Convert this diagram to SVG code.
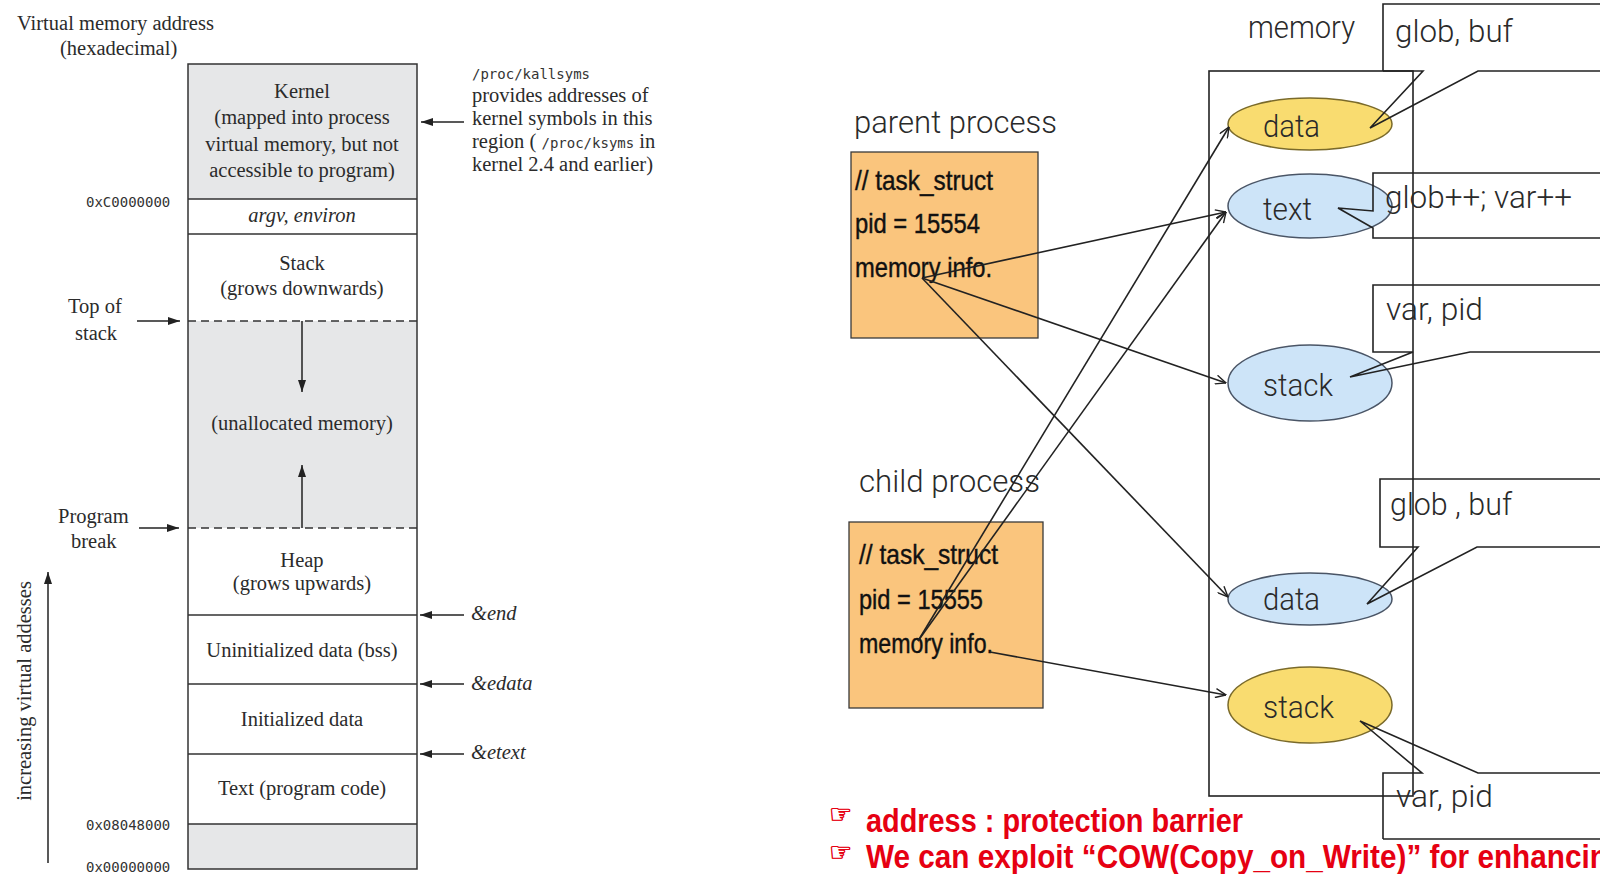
<svg xmlns="http://www.w3.org/2000/svg" width="1600" height="874" viewBox="0 0 1600 874">
  <defs>
    <!-- solid triangular head for the address-layout arrows -->
    <marker id="tri" viewBox="0 0 12 8" refX="12" refY="4" markerWidth="12" markerHeight="8" markerUnits="userSpaceOnUse" orient="auto">
      <path d="M0,0 L12,4 L0,8 Z" fill="#222"/>
    </marker>
    <!-- open head for the process-to-memory pointers -->
    <marker id="vee" viewBox="0 0 12 10" refX="11.5" refY="5" markerWidth="12" markerHeight="10" markerUnits="userSpaceOnUse" orient="auto">
      <path d="M1,0.5 L11.5,5 L1,9.5" fill="none" stroke="#222" stroke-width="1.4"/>
    </marker>
  </defs>
  <style>
    .serif{font-family:"Liberation Serif","Times New Roman",serif;font-size:20.5px;fill:#2b2b2b}
    .it{font-style:italic}
    .mid{text-anchor:middle}
    .mono{font-family:"DejaVu Sans Mono","Liberation Mono",monospace;font-size:14px;fill:#333}
    .seg{fill:none;stroke:#333;stroke-width:1.5}
    .grey{fill:#e6e7e8}
    .dash{stroke:#333;stroke-width:1.5;stroke-dasharray:8 5;fill:none}
    .ptr{stroke:#222;stroke-width:1.6;fill:none}
    .lbl{font-family:Roboto,"Liberation Sans",Arial,sans-serif;font-weight:300;font-size:31px;fill:#2a2a2a}
    .task{font-family:"Liberation Sans Narrow","Liberation Sans",Arial,sans-serif;font-size:28px;fill:#111;stroke:#111;stroke-width:0.4}
    .proc{fill:#fac57d;stroke:#3a3a3a;stroke-width:1.3}
    .yel{fill:#f9dc70;stroke:#7a6a2a;stroke-width:1.5}
    .blu{fill:#cde4f8;stroke:#4a5566;stroke-width:1.5}
    .call{fill:none;stroke:#222;stroke-width:1.6}
    .red{font-family:"Liberation Sans Narrow","Liberation Sans",Arial,sans-serif;font-weight:bold;font-size:33px;fill:#e60012}
    .hand{font-family:"DejaVu Sans",sans-serif;font-size:26px;fill:#e60012;stroke:#e60012;stroke-width:0.6}
  </style>

  <rect width="1600" height="874" fill="#fff"/>

  <!-- ===== Virtual address space layout ===== -->
  <g id="axis-title">
    <text class="serif" x="17" y="30">Virtual memory address</text>
    <text class="serif" x="60" y="55">(hexadecimal)</text>
  </g>

  <g id="seg-kernel">
    <rect class="grey" x="188" y="64" width="229" height="135"/>
    <text class="serif mid" x="302" y="98">Kernel</text>
    <text class="serif mid" x="302" y="124">(mapped into process</text>
    <text class="serif mid" x="302" y="151">virtual memory, but not</text>
    <text class="serif mid" x="302" y="177">accessible to program)</text>
  </g>
  <g id="seg-args">
    <text class="serif it mid" x="302" y="222">argv, environ</text>
  </g>
  <g id="seg-stack">
    <text class="serif mid" x="302" y="270">Stack</text>
    <text class="serif mid" x="302" y="295">(grows downwards)</text>
  </g>
  <g id="seg-unallocated">
    <rect class="grey" x="188" y="321" width="229" height="207"/>
    <text class="serif mid" x="302" y="430">(unallocated memory)</text>
  </g>
  <g id="seg-heap">
    <text class="serif mid" x="302" y="567">Heap</text>
    <text class="serif mid" x="302" y="590">(grows upwards)</text>
  </g>
  <g id="seg-bss">
    <text class="serif mid" x="302" y="657">Uninitialized data (bss)</text>
  </g>
  <g id="seg-data">
    <text class="serif mid" x="302" y="726">Initialized data</text>
  </g>
  <g id="seg-text">
    <text class="serif mid" x="302" y="795">Text (program code)</text>
  </g>
  <g id="seg-low">
    <rect class="grey" x="188" y="824" width="229" height="45"/>
  </g>

  <g id="column-frame">
    <rect class="seg" x="188" y="64" width="229" height="805"/>
    <path class="seg" d="M188,199H417 M188,234H417 M188,615H417 M188,684H417 M188,754H417 M188,824H417"/>
    <path class="dash" d="M188,321H417 M188,528H417"/>
  </g>

  <g id="addresses">
    <text class="mono" x="86" y="207">0xC0000000</text>
    <text class="mono" x="86" y="830">0x08048000</text>
    <text class="mono" x="86" y="872">0x00000000</text>
  </g>

  <g id="pointer-labels">
    <text class="serif" x="68" y="313">Top of</text>
    <text class="serif" x="75" y="340">stack</text>
    <text class="serif" x="58" y="523">Program</text>
    <text class="serif" x="71" y="548">break</text>
    <text class="serif it" x="471" y="620">&amp;end</text>
    <text class="serif it" x="471" y="690">&amp;edata</text>
    <text class="serif it" x="471" y="759">&amp;etext</text>
    <text class="serif" transform="translate(31,691) rotate(-90)" text-anchor="middle" font-size="18.5">increasing virtual addesses</text>
  </g>

  <g id="kallsyms-note">
    <text class="mono" x="472" y="79">/proc/kallsyms</text>
    <text class="serif" x="472" y="102">provides addresses of</text>
    <text class="serif" x="472" y="125">kernel symbols in this</text>
    <text class="serif" x="472" y="148">region ( <tspan class="mono">/proc/ksyms</tspan> in</text>
    <text class="serif" x="472" y="171">kernel 2.4 and earlier)</text>
  </g>

  <g id="layout-arrows" fill="none" stroke="#222" stroke-width="1.5">
    <line x1="464" y1="122" x2="421" y2="122" marker-end="url(#tri)"/>
    <line x1="137" y1="321" x2="180" y2="321" marker-end="url(#tri)"/>
    <line x1="139" y1="528" x2="179" y2="528" marker-end="url(#tri)"/>
    <line x1="302" y1="321" x2="302" y2="392" marker-end="url(#tri)"/>
    <line x1="302" y1="528" x2="302" y2="465" marker-end="url(#tri)"/>
    <line x1="464" y1="615" x2="420" y2="615" marker-end="url(#tri)"/>
    <line x1="464" y1="684" x2="420" y2="684" marker-end="url(#tri)"/>
    <line x1="464" y1="754" x2="420" y2="754" marker-end="url(#tri)"/>
    <line x1="48" y1="863" x2="48" y2="572" marker-end="url(#tri)"/>
  </g>

  <!-- ===== fork(): parent / child sharing memory ===== -->
  <g id="parent-process">
    <text class="lbl" x="854" y="133" textLength="203" lengthAdjust="spacingAndGlyphs">parent process</text>
    <rect class="proc" x="851" y="152" width="187" height="186"/>
    <text class="task" x="855" y="190" textLength="138" lengthAdjust="spacingAndGlyphs">// task_struct</text>
    <text class="task" x="855" y="233" textLength="125" lengthAdjust="spacingAndGlyphs">pid = 15554</text>
    <text class="task" x="855" y="277" textLength="137" lengthAdjust="spacingAndGlyphs">memory info.</text>
  </g>

  <g id="child-process">
    <text class="lbl" x="859" y="492" textLength="181" lengthAdjust="spacingAndGlyphs">child process</text>
    <rect class="proc" x="849" y="522" width="194" height="186"/>
    <text class="task" x="859" y="564" textLength="139" lengthAdjust="spacingAndGlyphs">// task_struct</text>
    <text class="task" x="859" y="609" textLength="124" lengthAdjust="spacingAndGlyphs">pid = 15555</text>
    <text class="task" x="859" y="653" textLength="134" lengthAdjust="spacingAndGlyphs">memory info.</text>
  </g>

  <g id="memory">
    <text class="lbl" x="1248" y="38" textLength="107" lengthAdjust="spacingAndGlyphs">memory</text>
    <rect x="1209" y="71" width="204" height="725" fill="none" stroke="#222" stroke-width="1.6"/>
  </g>

  <g id="mem-data-1">
    <ellipse class="yel" cx="1310" cy="124" rx="82" ry="26"/>
    <text class="lbl" x="1263" y="137" textLength="57" lengthAdjust="spacingAndGlyphs">data</text>
  </g>
  <g id="mem-text">
    <ellipse class="blu" cx="1310" cy="206" rx="82" ry="32"/>
    <text class="lbl" x="1263" y="220" textLength="49" lengthAdjust="spacingAndGlyphs">text</text>
  </g>
  <g id="mem-stack-1">
    <ellipse class="blu" cx="1310" cy="383" rx="82" ry="38"/>
    <text class="lbl" x="1263" y="396" textLength="70" lengthAdjust="spacingAndGlyphs">stack</text>
  </g>
  <g id="mem-data-2">
    <ellipse class="blu" cx="1310" cy="599" rx="82" ry="26"/>
    <text class="lbl" x="1263" y="610" textLength="57" lengthAdjust="spacingAndGlyphs">data</text>
  </g>
  <g id="mem-stack-2">
    <ellipse class="yel" cx="1310" cy="705" rx="82" ry="38"/>
    <text class="lbl" x="1263" y="718" textLength="71" lengthAdjust="spacingAndGlyphs">stack</text>
  </g>

  <g id="callout-glob-1">
    <path class="call" d="M1383,71 V4 H1610 M1383,71 H1423 L1370,128 L1478,71 H1610"/>
    <text class="lbl" x="1395" y="42" textLength="118" lengthAdjust="spacingAndGlyphs">glob, buf</text>
  </g>
  <g id="callout-code">
    <path class="call" d="M1610,173 H1373 V211 L1338,208 L1373,228 V238 H1610"/>
    <text class="lbl" x="1385" y="208" textLength="187" lengthAdjust="spacingAndGlyphs">glob++; var++</text>
  </g>
  <g id="callout-var-1">
    <path class="call" d="M1610,285 H1373 V352 H1413 L1350,377 L1470,352 H1610"/>
    <text class="lbl" x="1386" y="320" textLength="97" lengthAdjust="spacingAndGlyphs">var, pid</text>
  </g>
  <g id="callout-glob-2">
    <path class="call" d="M1610,479 H1380 V547 H1418 L1367,604 L1477,547 H1610"/>
    <text class="lbl" x="1390" y="515" textLength="122" lengthAdjust="spacingAndGlyphs">glob , buf</text>
  </g>
  <g id="callout-var-2">
    <path class="call" d="M1383,839 V773 H1422 L1360,721 L1478,773 H1610 M1383,839 H1610"/>
    <text class="lbl" x="1396" y="807" textLength="97" lengthAdjust="spacingAndGlyphs">var, pid</text>
  </g>

  <g id="connectors" class="ptr">
    <line x1="922" y1="278" x2="1226" y2="212" marker-end="url(#vee)"/>
    <line x1="922" y1="278" x2="1226" y2="383" marker-end="url(#vee)"/>
    <line x1="922" y1="278" x2="1228" y2="597" marker-end="url(#vee)"/>
    <line x1="918" y1="641" x2="1229" y2="127" marker-end="url(#vee)"/>
    <line x1="918" y1="641" x2="1226" y2="212" marker-end="url(#vee)"/>
    <line x1="990" y1="652" x2="1226" y2="695" marker-end="url(#vee)"/>
  </g>

  <g id="notes">
    <text class="hand" x="829" y="823">☞</text>
    <text class="red" x="866" y="832" textLength="377" lengthAdjust="spacingAndGlyphs">address : protection barrier</text>
    <text class="hand" x="829" y="861">☞</text>
    <text class="red" x="866" y="868" textLength="760" lengthAdjust="spacingAndGlyphs">We can exploit “COW(Copy_on_Write)” for enhancing</text>
  </g>
</svg>
